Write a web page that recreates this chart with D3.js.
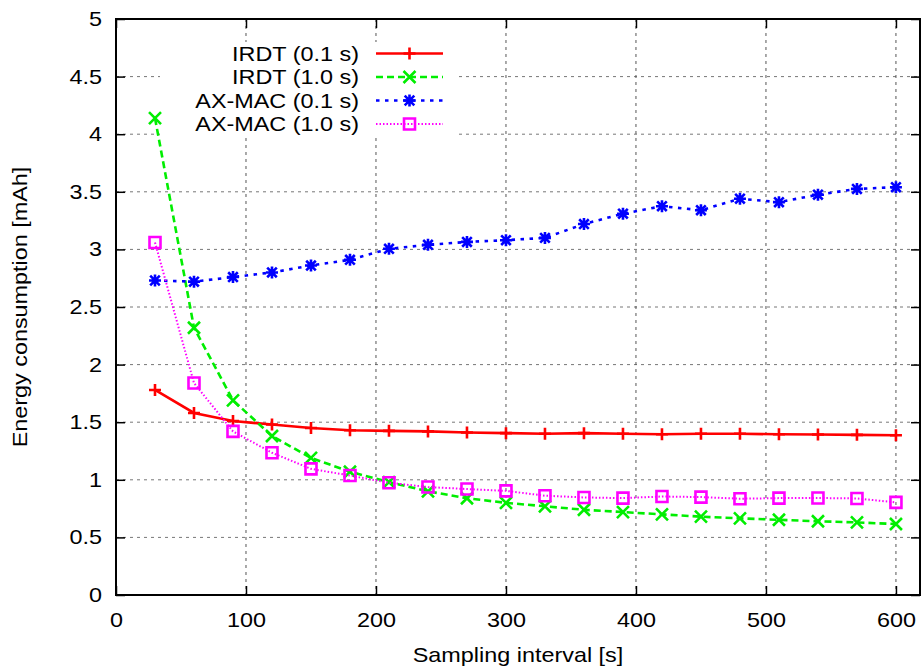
<!DOCTYPE html>
<html>
<head>
<meta charset="utf-8">
<script src="https://cdn.jsdelivr.net/npm/d3@7"></script>
<style>
  html, body { margin: 0; padding: 0; background: #fff; }
  svg { display: block; }
  text { font-family: "Liberation Sans", Arial, Helvetica, sans-serif; fill: #000; }
</style>
</head>
<body>
<svg id="chart" width="923" height="671"></svg>
<script>
// ---- data ----
const intervals = [30, 60, 90, 120, 150, 180, 210, 240, 270, 300, 330, 360, 390, 420, 450, 480, 510, 540, 570, 600];
const irdt01 = [1.78, 1.58, 1.51, 1.48, 1.45, 1.43, 1.425, 1.42, 1.41, 1.405, 1.40, 1.405, 1.40, 1.395, 1.40, 1.40, 1.395, 1.393, 1.39, 1.387];
const irdt10 = [4.14, 2.32, 1.69, 1.38, 1.19, 1.07, 0.98, 0.90, 0.84, 0.80, 0.77, 0.74, 0.72, 0.70, 0.68, 0.665, 0.653, 0.64, 0.63, 0.616];
const axmac01 = [2.73, 2.72, 2.76, 2.80, 2.86, 2.91, 3.005, 3.04, 3.065, 3.08, 3.10, 3.22, 3.31, 3.375, 3.34, 3.44, 3.41, 3.475, 3.525, 3.54];
const axmac10 = [3.06, 1.84, 1.42, 1.235, 1.095, 1.037, 0.975, 0.937, 0.92, 0.904, 0.862, 0.847, 0.841, 0.855, 0.85, 0.836, 0.841, 0.842, 0.838, 0.804];
const seriesNames = ["IRDT (0.1 s)", "IRDT (1.0 s)", "AX-MAC (0.1 s)", "AX-MAC (1.0 s)"];
const xTicks = [0, 100, 200, 300, 400, 500, 600];
const yTicks = [0, 0.5, 1, 1.5, 2, 2.5, 3, 3.5, 4, 4.5, 5];
const xTitle = "Sampling interval [s]";
const yTitle = "Energy consumption [mAh]";

// ---- layout ----
const L = 116, R = 920, T = 19, B = 595;
const FS = 20, SX = 1.17;
const svg = d3.select("#chart");
const x = d3.scaleLinear().domain([0, 618.5]).range([L, R]);
const y = d3.scaleLinear().domain([0, 5]).range([B, T]);

const styles = [
  { color: "#ff0000", dash: null, width: 2.6, marker: "plus" },
  { color: "#00ee00", dash: "7,4", width: 2.6, marker: "cross" },
  { color: "#0000ff", dash: "3.5,5.5", width: 2.6, marker: "star" },
  { color: "#ff00ff", dash: "1.5,2", width: 2, marker: "square" }
];
const data = [irdt01, irdt10, axmac01, axmac10];

// ---- grid ----
const grid = svg.append("g");
grid.selectAll("line.gy").data(yTicks.filter(v => v > 0 && v < 5)).join("line")
  .attr("x1", L).attr("x2", R).attr("y1", d => y(d)).attr("y2", d => y(d))
  .attr("stroke", "#777").attr("stroke-width", 1).attr("stroke-dasharray", "3,4");
grid.selectAll("line.gx").data(xTicks.filter(v => v > 0)).join("line")
  .attr("y1", T).attr("y2", B).attr("x1", d => x(d)).attr("x2", d => x(d))
  .attr("stroke", "#555").attr("stroke-width", 1).attr("stroke-dasharray", "3,4");

// opaque key box hides grid
svg.append("rect").attr("x", 160).attr("y", 42).attr("width", 297).attr("height", 96).attr("fill", "#fff");

// ---- axes (inward ticks, mirrored) ----
function styleAxis(g) {
  g.select(".domain").remove();
  g.selectAll(".tick line").attr("stroke", "#000").attr("stroke-width", 1.5);
}
const xAxisB = svg.append("g").attr("transform", `translate(0,${B})`)
  .call(d3.axisBottom(x).tickValues(xTicks).tickSizeInner(-9).tickSizeOuter(0).tickPadding(18).tickFormat(d3.format("d")))
  .call(styleAxis);
xAxisB.selectAll("text").attr("font-size", FS).attr("transform", `scale(${SX},1)`).style("font-family", "Liberation Sans, Arial, sans-serif");
svg.append("g").attr("transform", `translate(0,${T})`)
  .call(d3.axisTop(x).tickValues(xTicks).tickSizeInner(-9).tickSizeOuter(0).tickFormat(""))
  .call(styleAxis);
const yAxisL = svg.append("g").attr("transform", `translate(${L},0)`)
  .call(d3.axisLeft(y).tickValues(yTicks).tickSizeInner(-9).tickSizeOuter(0).tickPadding(12).tickFormat(d3.format("")))
  .call(styleAxis);
yAxisL.selectAll("text").attr("font-size", FS).attr("transform", `scale(${SX},1)`).style("font-family", "Liberation Sans, Arial, sans-serif");
svg.append("g").attr("transform", `translate(${R},0)`)
  .call(d3.axisRight(y).tickValues(yTicks).tickSizeInner(-9).tickSizeOuter(0).tickFormat(""))
  .call(styleAxis);

// frame
svg.append("rect").attr("x", L).attr("y", T).attr("width", R - L).attr("height", B - T)
  .attr("fill", "none").attr("stroke", "#000").attr("stroke-width", 2);

// ---- markers ----
function markerPath(type, s) {
  const p = d3.path();
  if (type === "plus" || type === "star") { p.moveTo(-s, 0); p.lineTo(s, 0); p.moveTo(0, -s); p.lineTo(0, s); }
  if (type === "cross" || type === "star") { const c = type === "star" ? s * 0.8 : s; p.moveTo(-c, -c); p.lineTo(c, c); p.moveTo(-c, c); p.lineTo(c, -c); }
  if (type === "square") { p.rect(-s + 0.5, -s + 0.5, 2 * s - 1, 2 * s - 1); }
  return p.toString();
}

// ---- series ----
const line = d3.line().x((d, i) => x(intervals[i])).y(d => y(d));
data.forEach((vals, k) => {
  const st = styles[k];
  const g = svg.append("g");
  g.append("path").datum(vals).attr("d", line).attr("fill", "none")
    .attr("stroke", st.color).attr("stroke-width", st.width)
    .attr("stroke-dasharray", st.dash);
  g.selectAll("path.m").data(vals).join("path").attr("class", "m")
    .attr("transform", (d, i) => `translate(${x(intervals[i])},${y(d)})`)
    .attr("d", markerPath(st.marker, 6)).attr("fill", "none")
    .attr("stroke", st.color).attr("stroke-width", 2.6);
});

// ---- legend ----
const legRows = [53.5, 77, 100.5, 124];
seriesNames.forEach((name, k) => {
  const st = styles[k];
  const cy = legRows[k];
  svg.append("text").attr("transform", `translate(359,${cy}) scale(${SX},1)`)
    .attr("text-anchor", "end").attr("dy", "0.35em").attr("font-size", FS).text(name);
  svg.append("line").attr("x1", 376).attr("x2", 443).attr("y1", cy).attr("y2", cy)
    .attr("stroke", st.color).attr("stroke-width", st.width).attr("stroke-dasharray", st.dash);
  svg.append("path").attr("transform", `translate(409.5,${cy})`).attr("d", markerPath(st.marker, 6))
    .attr("fill", "none").attr("stroke", st.color).attr("stroke-width", 2.6);
});

// ---- titles ----
svg.append("text").attr("transform", `translate(${(L + R) / 2},662) scale(${SX},1)`)
  .attr("text-anchor", "middle").attr("font-size", FS).text(xTitle);
svg.append("text").attr("transform", `translate(27,307) rotate(-90) scale(${SX},1)`)
  .attr("text-anchor", "middle").attr("font-size", FS).text(yTitle);
</script>
</body>
</html>
